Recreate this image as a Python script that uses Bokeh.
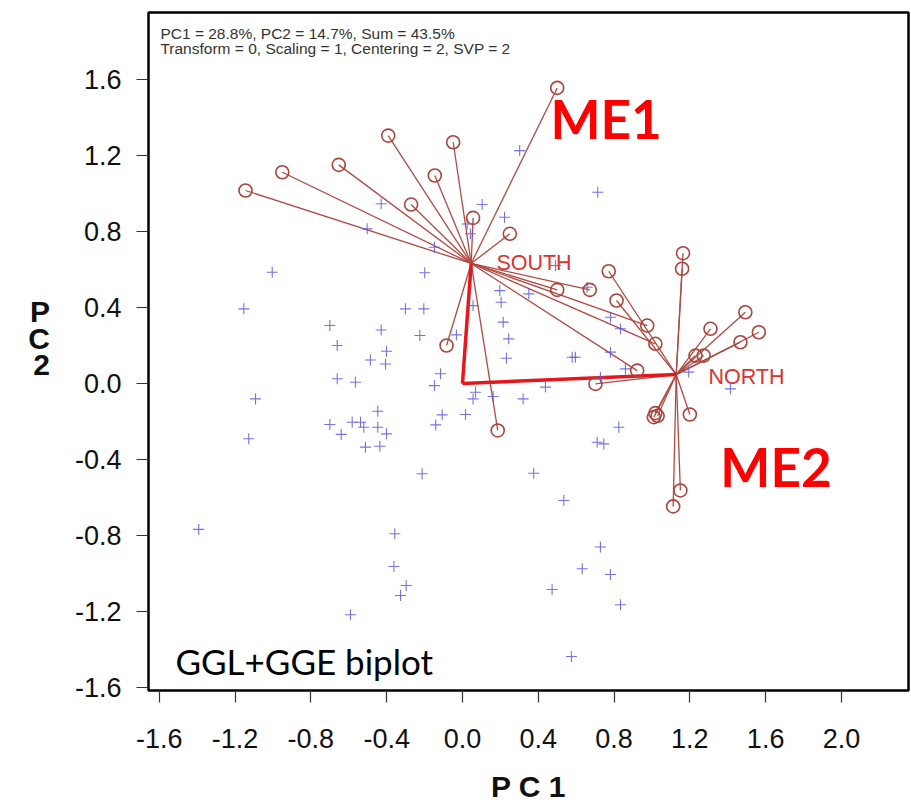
from bokeh.plotting import figure
from bokeh.models import Label, Range1d, FixedTicker, PrintfTickFormatter
from bokeh.embed import file_html
from bokeh.resources import INLINE

# ---- data ----
geno_pc1 = [0.302, 0.714, -0.429, 0.104, 0.222, -0.503, 0.025, 0.042, -0.148, -1.004,
            -0.199, 0.491, 0.197, 0.204, 0.350, -1.154, -0.301, -0.204, 0.056, -0.700,
            -0.429, -0.225, -0.032, 0.215, -0.661, -0.401, -0.486, -0.406, 0.244, 0.232,
            -0.116, -0.661, -0.565, -0.148, -1.092, 0.069, 0.056, 0.162, 0.320, 0.016,
            -0.107, -0.447, -0.700, -0.582, -0.538, -0.521, -0.447, -0.141, -0.640, -0.401,
            -1.128, -0.512, -0.436, -0.213, 0.376, 0.658, 0.579, 0.596, 0.781, 0.834,
            0.860, 0.781, 0.728, 0.438, 1.194, 1.414, 0.825, 0.711, 0.746, 0.535,
            -1.392, -0.357, -0.362, -0.297, -0.327, -0.591, 0.728, 0.632, 0.781, 0.473,
            0.834, 0.575]
geno_pc2 = [1.226, 1.007, 0.946, 0.942, 0.875, 0.814, 0.840, 0.788, 0.717, 0.586,
            0.583, 0.621, 0.489, 0.428, 0.472, 0.393, 0.393, 0.393, 0.410, 0.305,
            0.282, 0.253, 0.256, 0.323, 0.200, 0.170, 0.124, 0.103, 0.235, 0.133,
            0.051, 0.025, 0.007, -0.011, -0.081, -0.046, -0.081, -0.068, -0.081, -0.163,
            -0.165, -0.146, -0.216, -0.204, -0.204, -0.230, -0.230, -0.218, -0.268, -0.265,
            -0.291, -0.335, -0.330, -0.475, -0.472, 0.507, 0.138, 0.138, 0.349, 0.288,
            0.077, 0.165, 0.033, -0.019, 0.060, -0.028, -0.230, -0.309, -0.318, -0.616,
            -0.768, -0.791, -0.963, -1.063, -1.116, -1.217, -0.861, -0.975, -1.005, -1.084,
            -1.165, -1.437]

south_env_pc1 = [-1.145, -0.951, -0.653, -0.392, -0.049, -0.146, -0.271, 0.056, 0.250,
                 0.500, -0.084, 0.186, 0.500, 0.672, 0.975, 1.018, 0.922]
south_env_pc2 = [1.016, 1.112, 1.151, 1.305, 1.270, 1.095, 0.942, 0.872, 0.788,
                 1.556, 0.200, -0.247, 0.493, 0.493, 0.305, 0.209, 0.068]

north_env_pc1 = [0.772, 0.813, 0.702, 1.164, 1.159, 1.309, 1.493, 1.564, 1.467,
                 1.230, 1.273, 1.018, 1.010, 1.030, 1.200, 1.150, 1.112]
north_env_pc2 = [0.591, 0.437, -0.002, 0.686, 0.604, 0.288, 0.375, 0.270, 0.217,
                 0.147, 0.147, -0.156, -0.177, -0.170, -0.163, -0.563, -0.647]

region_names = ["SOUTH", "NORTH"]
region_pc1 = [0.046, 1.128]
region_pc2 = [0.632, 0.047]

x_ticks = [-1.6, -1.2, -0.8, -0.4, 0.0, 0.4, 0.8, 1.2, 1.6, 2.0]
y_ticks = [-1.6, -1.2, -0.8, -0.4, 0.0, 0.4, 0.8, 1.2, 1.6]

header_lines = ["PC1 = 28.8%, PC2 = 14.7%, Sum = 43.5%",
                "Transform = 0, Scaling = 1, Centering = 2, SVP = 2"]

# ---- figure ----
p = figure(width=911, height=808, output_backend="svg", toolbar_location=None,
           x_range=Range1d(-1.657, 2.354), y_range=Range1d(-1.616, 1.953),
           min_border_left=148, min_border_right=3, min_border_top=12,
           min_border_bottom=118)
p.grid.visible = False
p.outline_line_color = "black"
p.outline_line_width = 2.5
p.background_fill_color = "white"
p.border_fill_color = "white"

for ax, ticks in ((p.xaxis, x_ticks), (p.yaxis, y_ticks)):
    ax.ticker = FixedTicker(ticks=ticks)
    ax.formatter = PrintfTickFormatter(format="%.1f")
    ax.axis_line_color = None
    ax.major_tick_in = 0
    ax.major_tick_out = 12
    ax.major_tick_line_color = "#333333"
    ax.major_tick_line_width = 1.2
    ax.minor_tick_line_color = None
    ax.major_label_text_font = "Liberation Sans"
    ax.major_label_text_font_size = "27px"
    ax.major_label_text_color = "#111111"

p.xaxis.major_label_standoff = 26
p.yaxis.major_label_standoff = 15

p.xaxis.axis_label = "P C 1"
p.xaxis.axis_label_text_font = "Liberation Sans"
p.xaxis.axis_label_text_font_style = "bold"
p.xaxis.axis_label_text_font_size = "30px"
p.xaxis.axis_label_text_line_height = 0.7
p.xaxis.axis_label_text_color = "#111111"
p.xaxis.axis_label_standoff = 19

p.yaxis.axis_label = "P\nC\n2\n "
p.yaxis.axis_label_orientation = "horizontal"
p.yaxis.axis_label_text_font = "Liberation Sans"
p.yaxis.axis_label_text_font_style = "bold"
p.yaxis.axis_label_text_font_size = "30px"
p.yaxis.axis_label_text_line_height = 0.8
p.yaxis.axis_label_text_color = "#111111"
p.yaxis.axis_label_text_align = "center"
p.yaxis.axis_label_standoff = 22

line_col = "#b04a42"
sx = [region_pc1[0]] * len(south_env_pc1)
sy = [region_pc2[0]] * len(south_env_pc2)
nx = [region_pc1[1]] * len(north_env_pc1)
ny = [region_pc2[1]] * len(north_env_pc2)
p.segment(x0=sx, y0=sy, x1=south_env_pc1, y1=south_env_pc2, line_color=line_col, line_width=1.3)
p.segment(x0=nx, y0=ny, x1=north_env_pc1, y1=north_env_pc2, line_color=line_col, line_width=1.3)

# thick lines from origin to the two region points
p.segment(x0=[0, 0], y0=[0, 0], x1=region_pc1, y1=region_pc2,
          line_color="#e8161c", line_width=3.5)

p.scatter(geno_pc1, geno_pc2, marker="cross", size=11, line_color="#5a5ae0",
          line_width=1.1, line_alpha=0.85)

p.scatter(south_env_pc1 + north_env_pc1, south_env_pc2 + north_env_pc2,
          marker="circle", size=13, fill_color=None, line_color="#a8443a", line_width=1.6)

# region labels
p.add_layout(Label(x=0.179, y=0.633, text=region_names[0], text_font="Liberation Sans",
                   text_font_size="21.5px", text_color="#d83434", text_baseline="alphabetic"))
p.add_layout(Label(x=1.298, y=0.036, text=region_names[1], text_font="Liberation Sans",
                   text_font_size="21.5px", text_color="#d83434", text_baseline="alphabetic"))

# header text
p.add_layout(Label(x=-1.594, y=1.842, text=header_lines[0], text_font="Liberation Sans",
                   text_font_size="15.5px", text_color="#333333", text_baseline="alphabetic"))
p.add_layout(Label(x=-1.594, y=1.762, text=header_lines[1], text_font="Liberation Sans",
                   text_font_size="15.5px", text_color="#333333", text_baseline="alphabetic"))

# mega-environment labels
p.add_layout(Label(x=0.464, y=1.394, text="ME1", text_font="Lato", text_font_style="bold",
                   text_font_size="53px", text_color="#ff0000", text_baseline="alphabetic"))
p.add_layout(Label(x=1.361, y=-0.439, text="ME2", text_font="Lato", text_font_style="bold",
                   text_font_size="53px", text_color="#ff0000", text_baseline="alphabetic"))

p.add_layout(Label(x=-1.515, y=-1.463, text="GGL+GGE biplot", text_font="Lato",
                   text_font_size="35px", text_color="#000000", text_baseline="alphabetic"))

open("out.html", "w").write(file_html(p, INLINE))
